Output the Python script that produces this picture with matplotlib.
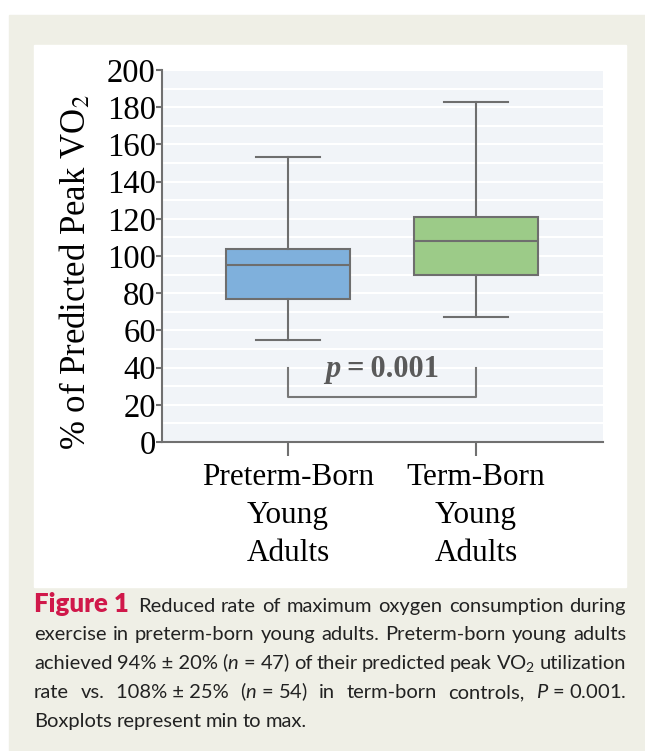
import matplotlib
matplotlib.use('Agg')
import matplotlib.pyplot as plt
from matplotlib.patches import Rectangle

# box plot values (min to max)
groups = ['Preterm-Born\nYoung\nAdults', 'Term-Born\nYoung\nAdults']
mins = [55, 67]
q1s = [77, 90]
medians = [95, 108]
q3s = [104, 121]
maxs = [153, 183]
colors = ['#7fb0dc', '#9ccb88']
yticks = list(range(0, 201, 20))
p_value = '0.001'

caption_lines = [
    ['Reduced', 'rate', 'of', 'maximum', 'oxygen', 'consumption', 'during'],
    ['exercise', 'in', 'preterm-born', 'young', 'adults.', 'Preterm-born', 'young', 'adults'],
    ['achieved', '94% ± 20%', '($n$ = 47)', 'of', 'their', 'predicted', 'peak',
     'VO$_2$', 'utilization'],
    ['rate', 'vs.', '108% ± 25%', '($n$ = 54)', 'in', 'term-born', 'controls,',
     '$P$ = 0.001.'],
    ['Boxplots', 'represent', 'min', 'to', 'max.'],
]

# caption mathtext in Lato; the serif labels use stix instead
plt.rcParams['mathtext.fontset'] = 'custom'
plt.rcParams['mathtext.rm'] = 'Lato'
plt.rcParams['mathtext.it'] = 'Lato:italic'

W, H = 645, 751
fig = plt.figure(figsize=(W / 100, H / 100), dpi=100)
fig.patch.set_facecolor('white')

def px(x, y):
    return x / W, 1 - y / H

# beige page and white panel
fig.patches.append(Rectangle(px(9, 751), (W - 9) / W, (751 - 15) / H,
                             transform=fig.transFigure, color='#efefe6', zorder=-2))
fig.patches.append(Rectangle(px(34, 587), (626 - 34) / W, (587 - 45) / H,
                             transform=fig.transFigure, color='white', zorder=-1))

l, b = px(162, 442)
r, t = px(603, 70)
ax = fig.add_axes([l, b, r - l, t - b], zorder=1)
ax.set_facecolor('#f1f4f8')

stats = []
for i in range(len(groups)):
    stats.append(dict(whislo=mins[i], q1=q1s[i], med=medians[i], q3=q3s[i],
                      whishi=maxs[i], fliers=[]))
edge = '#6e6e6e'
bp = ax.bxp(stats, positions=[1, 2], widths=0.66, patch_artist=True,
            showfliers=False,
            boxprops=dict(edgecolor=edge, linewidth=1.5),
            medianprops=dict(color=edge, linewidth=1.5),
            whiskerprops=dict(color=edge, linewidth=1.5),
            capprops=dict(color=edge, linewidth=1.5),
            capwidths=0.34, zorder=3)
for patch, c in zip(bp['boxes'], colors):
    patch.set_facecolor(c)

ax.set_xlim(0.33, 2.676)
ax.set_ylim(0, 200)
ax.set_yticks(yticks)
ax.set_yticks(range(10, 200, 20), minor=True)
ax.grid(True, which='both', axis='y', color='white', lw=1.5, zorder=0)
ax.set_axisbelow(True)
ax.set_xticks([1, 2])
ax.set_xticklabels(groups, family='Liberation Serif', fontsize=22.5,
                   linespacing=1.42)
for lab in ax.get_yticklabels():
    lab.set_family('Liberation Serif')
    lab.set_fontsize(23.5)
ax.tick_params(axis='y', which='major', length=4, width=1.5, color='#707070', pad=0.5)
ax.tick_params(axis='y', which='minor', length=0)
ax.tick_params(axis='x', length=10, width=1.5, color='#707070', pad=5)
for s in ['top', 'right']:
    ax.spines[s].set_visible(False)
for s in ['left', 'bottom']:
    ax.spines[s].set_color('#707070')
    ax.spines[s].set_linewidth(1.5)

fig.text(76 / W, 1 - 272 / H, '% of Predicted Peak VO$_2$', rotation=90,
         ha='center', va='center', fontsize=25, family='Liberation Serif',
         math_fontfamily='stix')

renderer = fig.canvas.get_renderer()

# significance bracket between the two boxes
ax.plot([1, 1, 2, 2], [40, 24, 24, 40], color='#777777', lw=1.5, zorder=3)
pfont = dict(fontsize=22, fontweight='bold', color='#5a5a5a', family='Liberation Serif')
t1 = ax.text(1.5, 35, 'p', style='italic', va='baseline', **pfont)
t2 = ax.text(1.5, 35, '\u2009=\u2009' + p_value, va='baseline', **pfont)
w1 = t1.get_window_extent(renderer).width
w2 = t2.get_window_extent(renderer).width
cx = ax.transData.transform((1.5, 35))[0]
x0 = cx - (w1 + w2) / 2
inv = ax.transData.inverted()
t1.set_x(inv.transform((x0, 0))[0])
t2.set_x(inv.transform((x0 + w1, 0))[0])

# caption, justified lines
cap_font = dict(family='Lato', fontsize=14.5, color='#222222')
left_px, right_px = 34, 626
line_y = [612, 640, 669, 698, 727]
for k, words in enumerate(caption_lines):
    y = 1 - line_y[k] / H
    start = left_px
    if k == 0:
        head = fig.text(start / W, y, 'Figure 1', fontsize=18.5, fontweight='heavy',
                        color='#d0184a', family='Lato', va='baseline')
        start += head.get_window_extent(renderer).width + 9
    texts = [fig.text(0, y, w, va='baseline', **cap_font) for w in words]
    widths = [tx.get_window_extent(renderer).width for tx in texts]
    if k == len(caption_lines) - 1:
        gap = 4.5
    else:
        gap = (right_px - start - sum(widths)) / (len(words) - 1)
    x = start
    for tx, w in zip(texts, widths):
        tx.set_x(x / W)
        x += w + gap

fig.savefig('out.png', dpi=100)
